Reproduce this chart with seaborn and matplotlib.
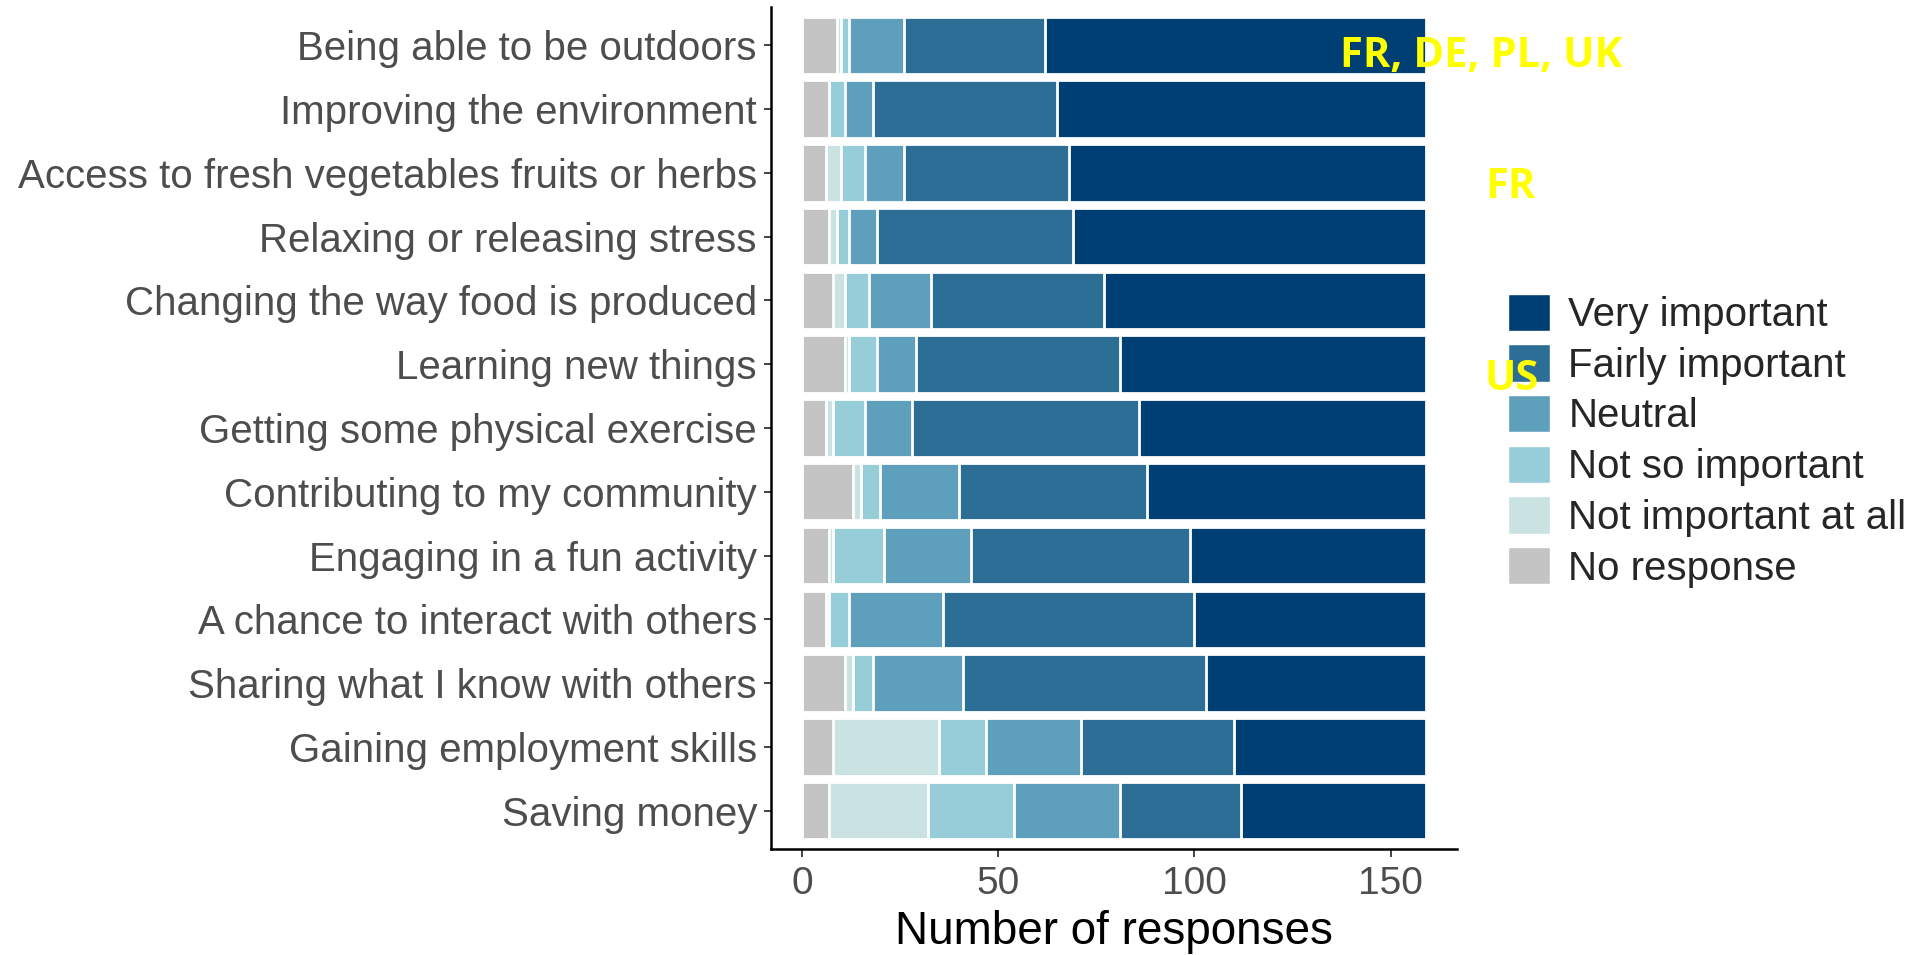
import pandas as pd
import numpy as np
import matplotlib.pyplot as plt
import seaborn as sns
from matplotlib.patches import Patch

questions = ['Being able to be outdoors', 'Improving the environment',
             'Access to fresh vegetables fruits or herbs', 'Relaxing or releasing stress',
             'Changing the way food is produced', 'Learning new things',
             'Getting some physical exercise', 'Contributing to my community',
             'Engaging in a fun activity', 'A chance to interact with others',
             'Sharing what I know with others', 'Gaining employment skills', 'Saving money']

# stacking order, left to right
levels = ['No response', 'Not important at all', 'Not so important',
          'Neutral', 'Fairly important', 'Very important']

no_response = [9, 7, 6, 7, 8, 11, 6, 13, 7, 6, 11, 8, 7]
not_at_all = [1, 0, 4, 2, 3, 1, 2, 2, 1, 1, 2, 27, 25]
not_so = [2, 4, 6, 3, 6, 7, 8, 5, 13, 5, 5, 12, 22]
neutral = [14, 7, 10, 7, 16, 10, 12, 20, 22, 24, 23, 24, 27]
fairly = [36, 47, 42, 50, 44, 52, 58, 48, 56, 64, 62, 39, 31]
very = [97, 94, 91, 90, 82, 78, 73, 71, 60, 59, 56, 49, 47]

colors = ['#c4c4c4', '#cbe2e3', '#97ccd9', '#5ea0bb', '#2d6e96', '#003f73']

df = pd.DataFrame({'question': questions, 'No response': no_response,
                   'Not important at all': not_at_all, 'Not so important': not_so,
                   'Neutral': neutral, 'Fairly important': fairly,
                   'Very important': very})
cum = df[levels].cumsum(axis=1)
cum['question'] = df['question']

sns.set_style('white')
plt.rcParams['font.family'] = ['Liberation Sans', 'DejaVu Sans']

fig = plt.figure(figsize=(19.26, 9.55), dpi=100)
ax = fig.add_axes([0.4002, 0.111, 0.3563, 0.8817])

# overlapping cumulative bars = stacked bars
for lev, col in reversed(list(zip(levels, colors))):
    sns.barplot(data=cum, x=lev, y='question', order=questions, color=col,
                width=0.9, edgecolor='white', linewidth=2.0, saturation=1, ax=ax)

ax.set_xlim(-7.95, 166.95)
ax.set_ylim(12.6, -0.6)
ax.set_xticks([0, 50, 100, 150])
ax.set_ylabel('')
ax.set_xlabel('Number of responses', fontsize=33, color='black', labelpad=6)
ax.tick_params(axis='y', labelsize=29, labelcolor='#4d4d4d', length=5, width=1.3,
               color='#333333', pad=5, left=True)
ax.tick_params(axis='x', labelsize=28, labelcolor='#4d4d4d', length=6, width=1.3,
               color='#333333', pad=6, bottom=True)
for s in ['top', 'right']:
    ax.spines[s].set_visible(False)
for s in ['left', 'bottom']:
    ax.spines[s].set_color('black')
    ax.spines[s].set_linewidth(1.8)

handles = [Patch(facecolor=c, edgecolor='white', label=l)
           for l, c in zip(levels[::-1], colors[::-1])]
fig.legend(handles=handles, loc='upper left', bbox_to_anchor=(0.783, 0.6925),
           frameon=False, fontsize=29, handlelength=1.05, handleheight=1.05,
           labelspacing=0.255, handletextpad=0.45, borderpad=0, borderaxespad=0)

# yellow country notes, drawn over the legend
ann = dict(color='#ffff00', fontsize=30, fontweight='bold', zorder=10,
           family=['Open Sans', 'DejaVu Sans'], va='center', ha='left')
fig.text(0.6955, 1 - 57 / 955, 'FR, DE, PL, UK', **ann)
fig.text(0.771, 1 - 188 / 955, 'FR', **ann)
fig.text(0.771, 1 - 379 / 955, 'US', **ann)

fig.savefig('out.png', dpi=100)
